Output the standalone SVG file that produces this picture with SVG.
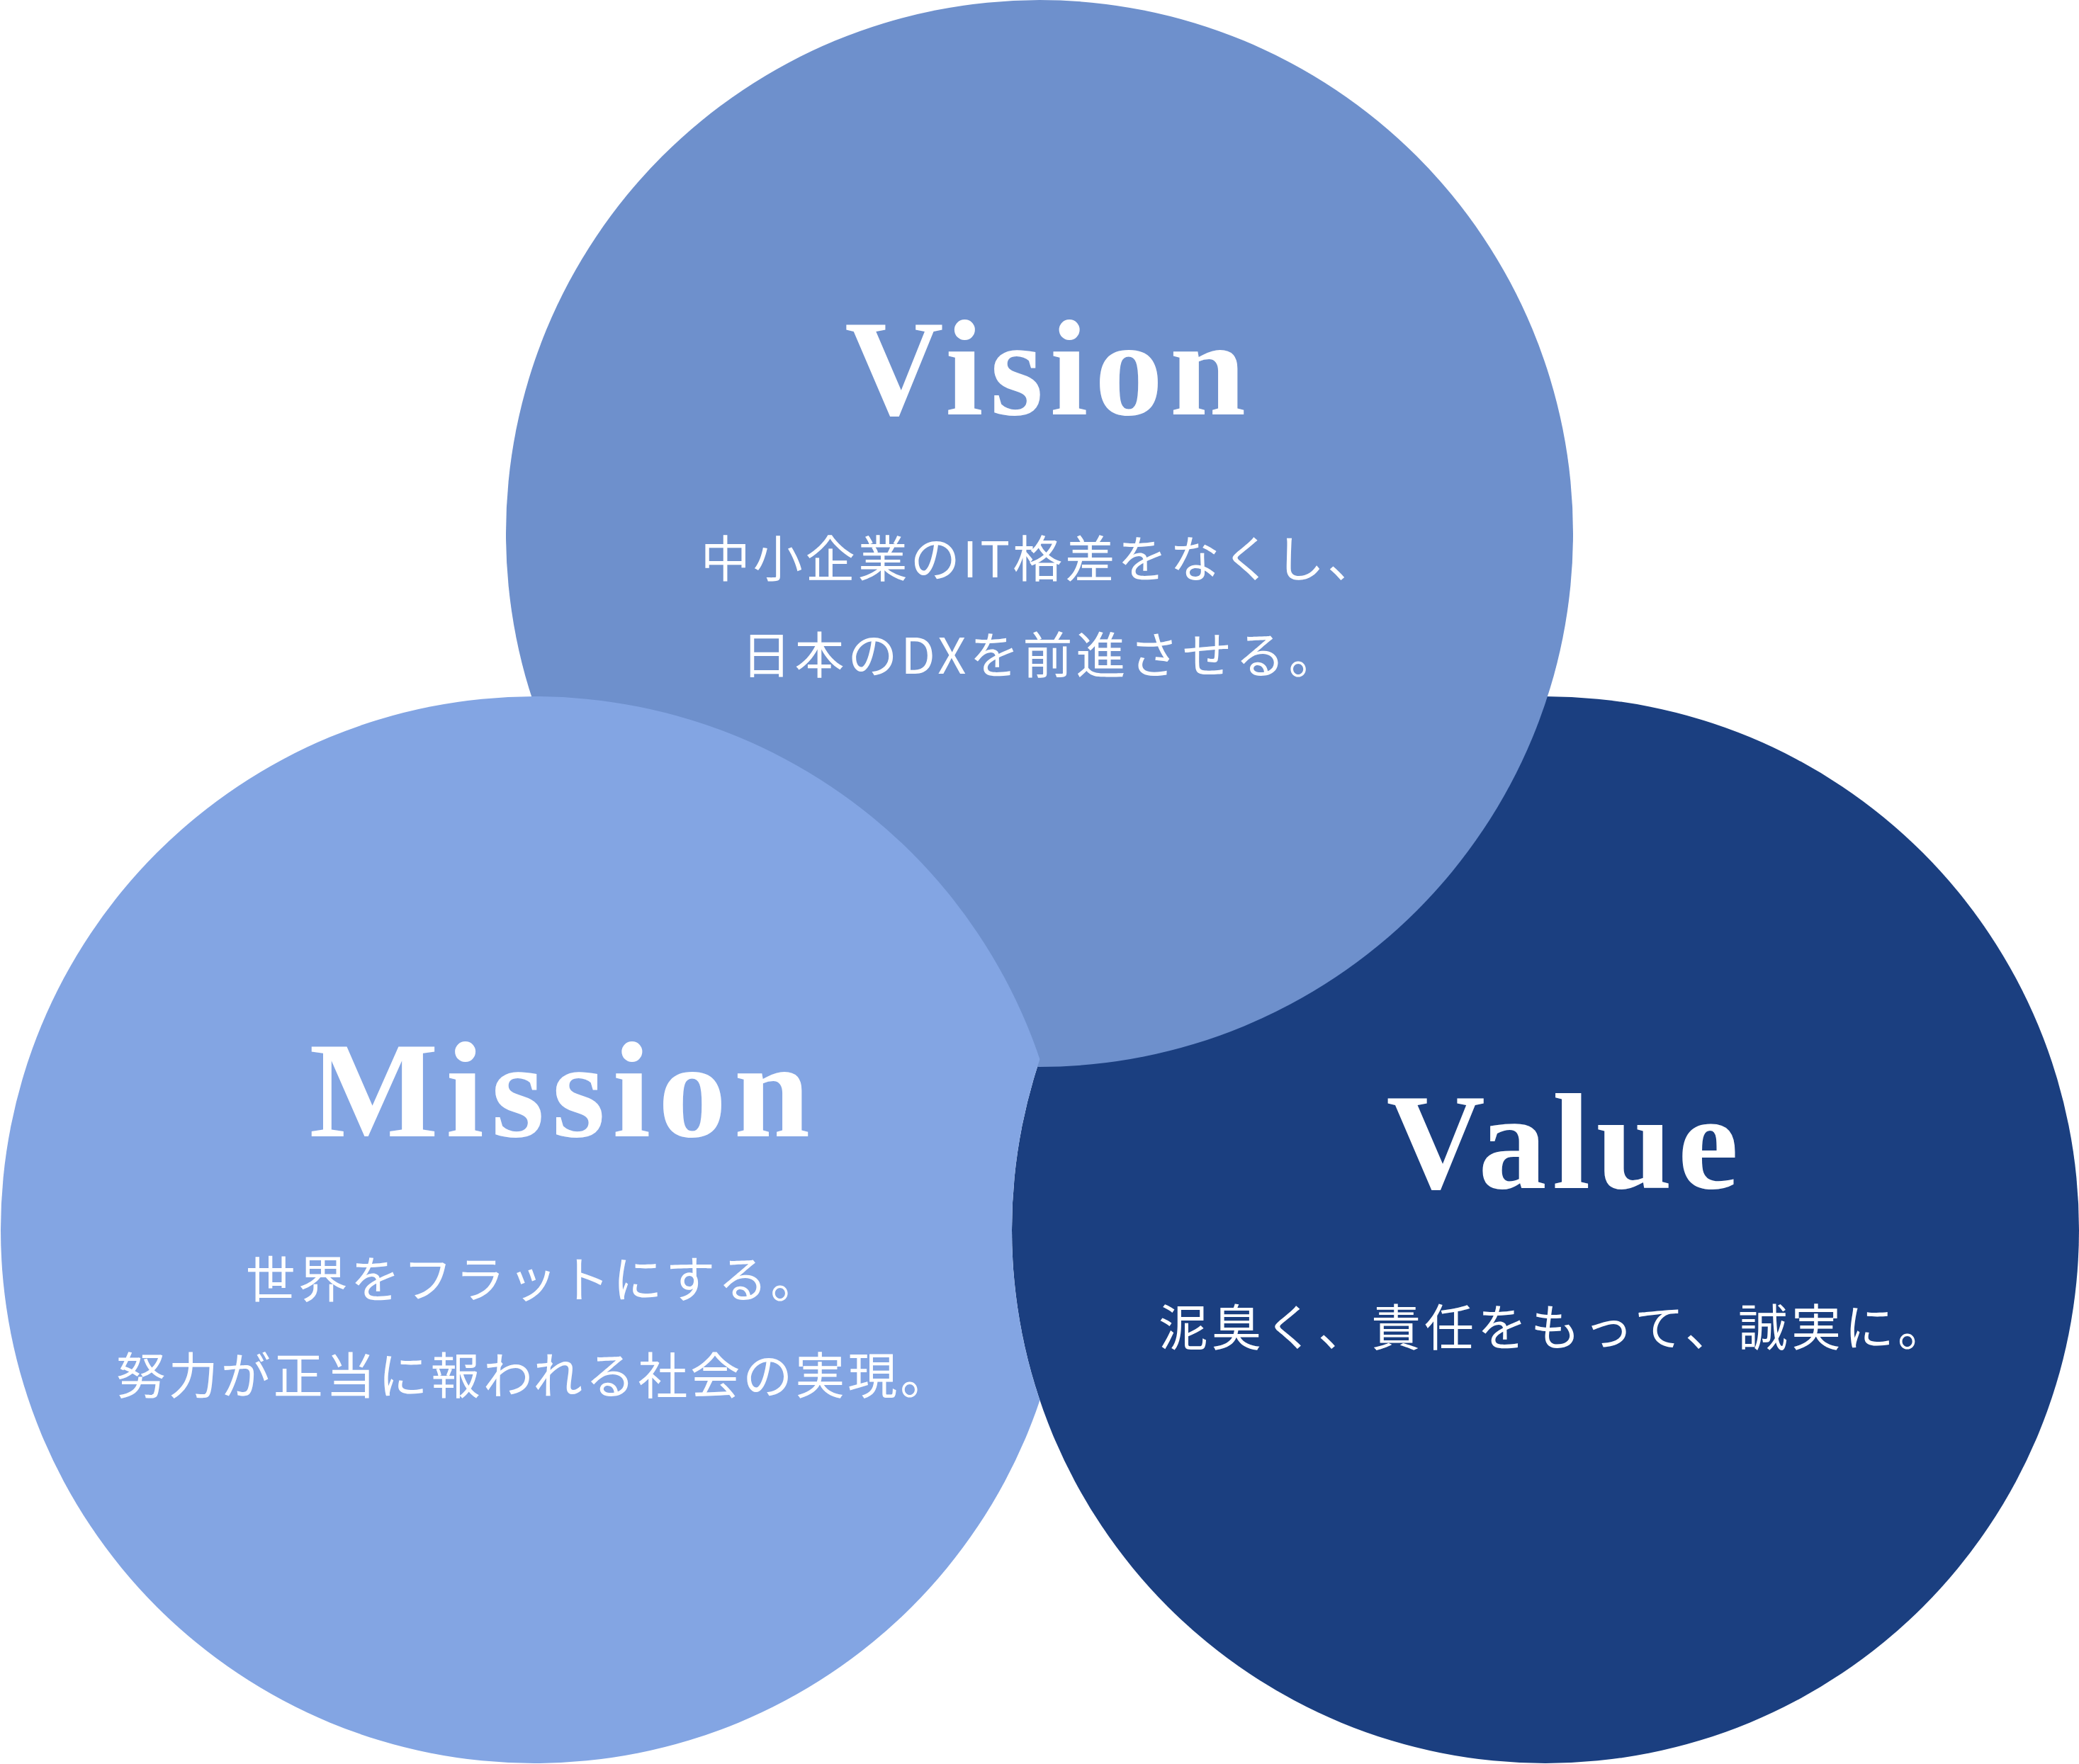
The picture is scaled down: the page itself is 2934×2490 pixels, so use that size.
<svg xmlns="http://www.w3.org/2000/svg" width="2934" height="2490" viewBox="0 0 2934 2490">
<style>
.title{font-family:"Liberation Serif","Times New Roman",serif;font-weight:bold;font-size:193px;fill:#ffffff;text-anchor:middle}
.body{font-family:"Noto Sans CJK JP","Noto Sans",sans-serif;font-weight:400;font-size:70px;fill:#ffffff;text-anchor:middle}
</style>
<defs>
<circle id="c-vision" cx="1467" cy="753" r="753"/>
<circle id="c-mission" cx="754" cy="1736" r="753"/>
<circle id="c-value" cx="2181" cy="1736" r="753"/>
<mask id="mask-no-value" maskUnits="userSpaceOnUse" x="0" y="0" width="2934" height="2490">
<rect width="2934" height="2490" fill="#ffffff"/>
<use href="#c-value" fill="#000000"/>
</mask>
</defs>
<rect width="2934" height="2490" fill="#ffffff"/>
<g id="value">
<use href="#c-value" fill="#1b3f80"/>
</g>
<g id="vision">
<use href="#c-vision" fill="#6e90cc"/>
</g>
<g id="mission" mask="url(#mask-no-value)">
<use href="#c-mission" fill="#83a5e3"/>
</g>
<g id="vision-text">
<text class="title" x="1480" y="585" letter-spacing="9.5">Vision</text>
<text class="body" x="1468" y="815" letter-spacing="4">中小企業のIT格差をなくし、</text>
<text class="body" x="1470" y="951" letter-spacing="5">日本のDXを前進させる。</text>
</g>
<g id="mission-text">
<text class="title" x="795" y="1604" letter-spacing="10.5">Mission</text>
<text class="body" x="754" y="1832" letter-spacing="4">世界をフラットにする。</text>
<text class="body" x="754" y="1968" letter-spacing="4">努力が正当に報われる社会の実現。</text>
</g>
<g id="value-text">
<text class="title" x="2209" y="1677" letter-spacing="8">Value</text>
<text class="body" x="2194" y="1900" letter-spacing="5">泥臭く、責任をもって、誠実に。</text>
</g>
<g id="connectors"></g>
</svg>
